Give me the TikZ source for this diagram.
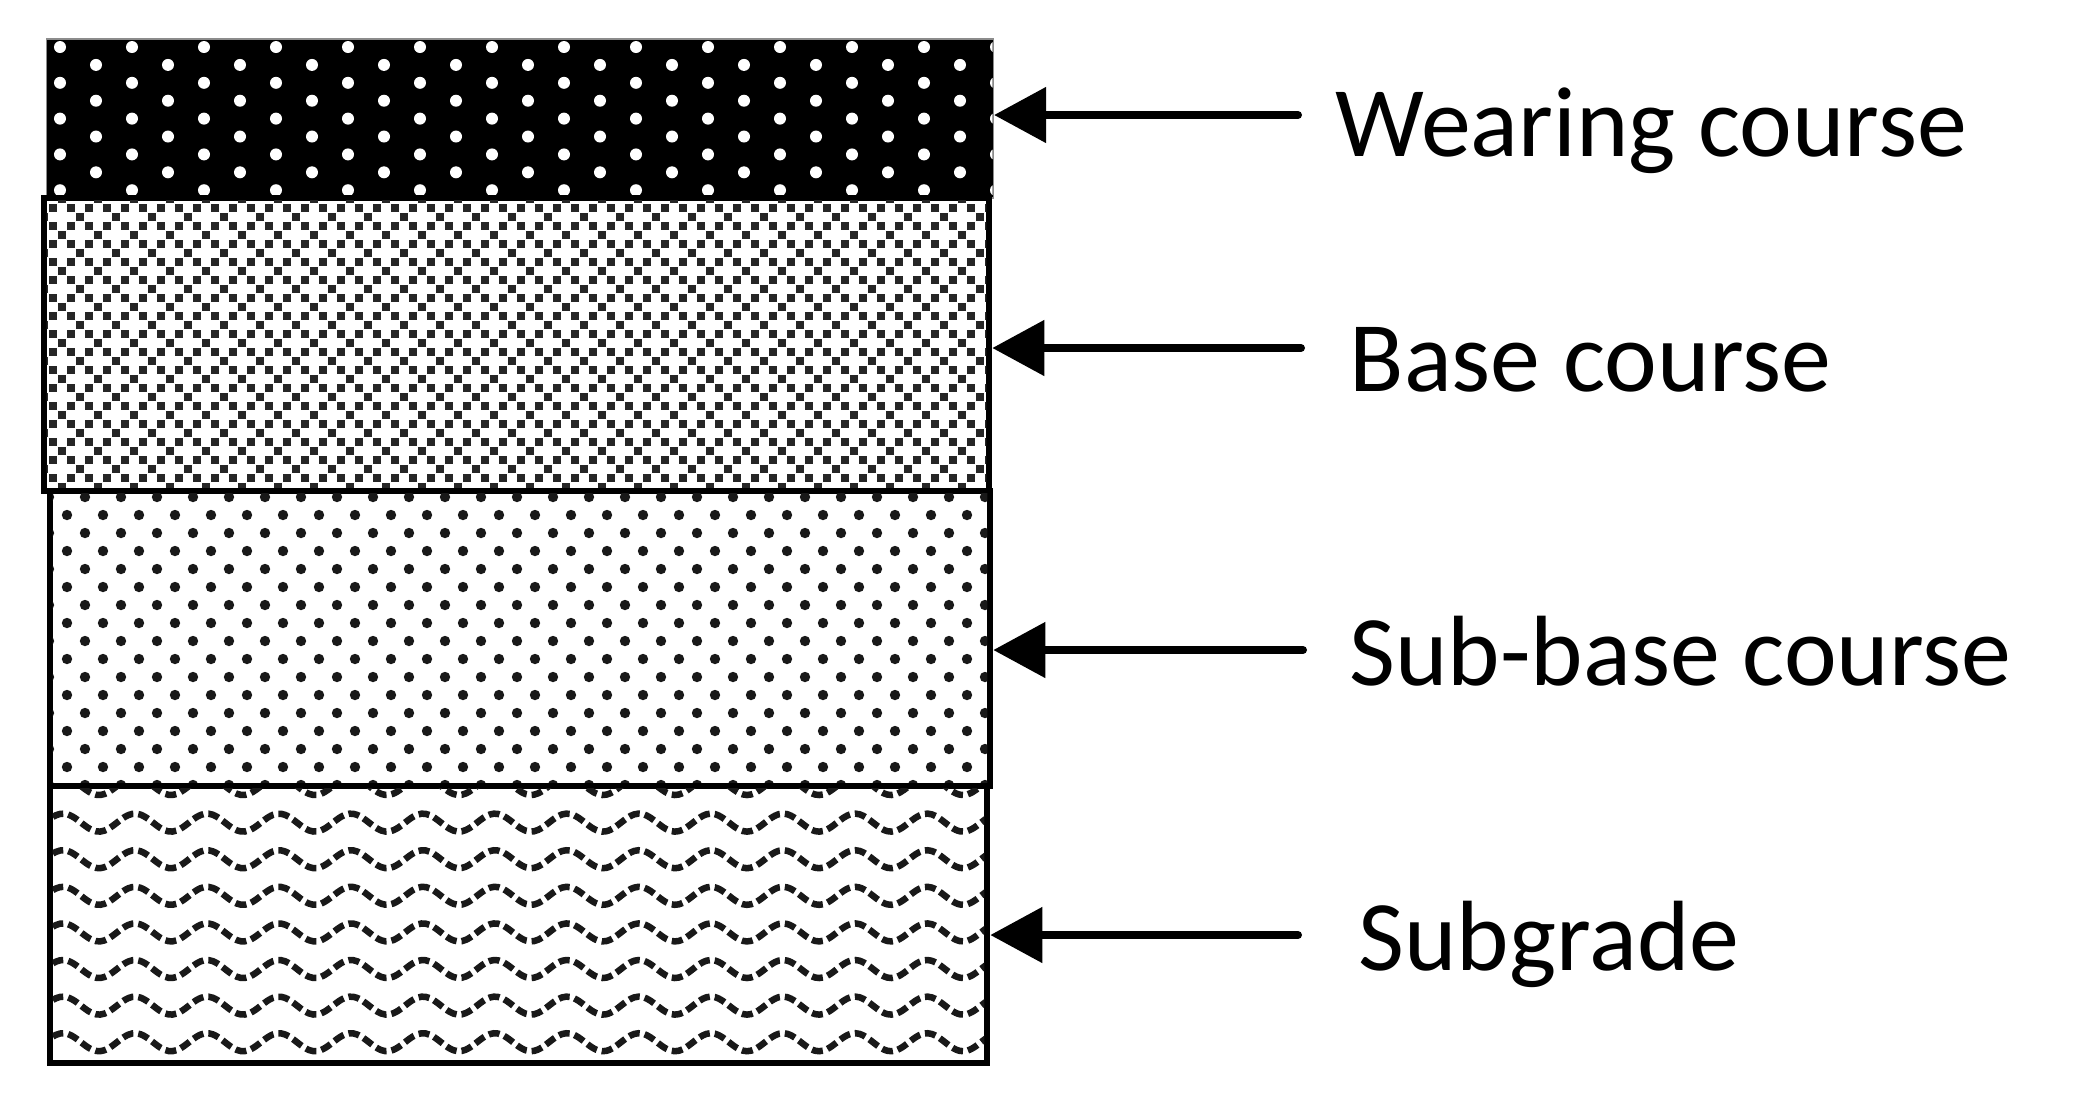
\documentclass[tikz,border=0pt]{standalone}
\usepackage{fontspec}
\setmainfont{Carlito}
\usepackage{tikz}
\usetikzlibrary{calc,positioning,arrows.meta}
\tikzset{
  layer/.style={rectangle,draw=black,line width=0.06cm,fill=white,inner sep=0pt},
  toplayer/.style={rectangle,draw=black!45,line width=0.015cm,fill=black,inner sep=0pt},
  lbl/.style={anchor=base west,inner sep=0pt,font=\fontsize{28.4}{34}\selectfont},
  line/.style={draw,line width=0.08cm,line cap=round,-{Triangle[length=0.52cm,width=0.54cm]}},
  wdot/.style={fill=white},
  bdot/.style={fill=black!85},
  sdot/.style={fill=black!90},
  wave/.style={draw=black!90,line width=0.065cm,dash pattern=on 0.11cm off 0.05cm},
}
\begin{document}
\begin{tikzpicture}[x=0.01cm,y=-0.01cm]
  \useasboundingbox (0,0) rectangle (2075,1105);

  %wearing course
  \node[toplayer,minimum width=9.46cm,minimum height=1.59cm] (wear) at (520,118.5) {};
  \begin{scope}
    \clip ([shift={(0.015cm,0.015cm)}]wear.south west) rectangle ([shift={(-0.015cm,-0.015cm)}]wear.north east);
    \foreach \r in {0,...,9}
      \foreach \c in {-1,...,13}
        \fill[wdot] ({60+36*mod(\r,2)+72*\c},{47+17.9*\r}) circle (0.06cm);
  \end{scope}

  %base course
  \node[layer,minimum width=9.45cm,minimum height=2.93cm] (base) at (516.5,344.5) {};
  \begin{scope}
    \clip ([shift={(0.06cm,0.06cm)}]base.south west) rectangle ([shift={(-0.06cm,-0.06cm)}]base.north east);
    \foreach \a/\b in {0/2,2/0,1/1,1/3,3/1,3/3}
      \foreach \c in {0,...,27}
        \foreach \r in {0,...,9}
          \fill[bdot] ({26+9*\a+36*\c-4.25},{181+9*\b+36*\r-4.25}) rectangle ++(8.5,8.5);
  \end{scope}

  %sub-base course
  \node[layer,minimum width=9.40cm,minimum height=2.95cm] (subbase) at (520,638.5) {};
  \begin{scope}
    \clip ([shift={(0.06cm,0.06cm)}]subbase.south west) rectangle ([shift={(-0.06cm,-0.06cm)}]subbase.north east);
    \foreach \r in {0,...,16}
      \foreach \c in {-1,...,26}
        \fill[sdot] ({85-18*mod(\r,2)+36*\c},{497+18*\r}) circle (0.052cm);
  \end{scope}

  %subgrade
  \node[layer,minimum width=9.37cm,minimum height=2.77cm] (subgrade) at (518.5,924.5) {};
  \begin{scope}
    \clip ([shift={(0.06cm,0.06cm)}]subgrade.south west) rectangle ([shift={(-0.06cm,-0.06cm)}]subgrade.north east);
    \foreach \r in {0,...,8}
      \draw[wave] plot[domain=40:1000,samples=240,smooth] (\x,{777+36.6*\r+9-9*cos(5*(\x-135))});
  \end{scope}

  %labels
  \node[lbl] (lwear) at (1335,156) {Wearing course};
  \node[lbl] (lbase) at (1349,391) {Base course};
  \node[lbl] (lsubbase) at (1349,685) {Sub-base course};
  \node[lbl] (lsubgrade) at (1358,970) {Subgrade};

  %arrows
  \coordinate (twear) at (1298,115);
  \coordinate (tbase) at (1301,348);
  \coordinate (tsubbase) at (1303,650);
  \coordinate (tsubgrade) at (1298,935);
  \draw[line] (twear) -- (twear -| wear.east);
  \draw[line] (tbase) -- (tbase -| base.east);
  \draw[line] (tsubbase) -- (tsubbase -| subbase.east);
  \draw[line] (tsubgrade) -- (tsubgrade -| subgrade.east);
\end{tikzpicture}
\end{document}
